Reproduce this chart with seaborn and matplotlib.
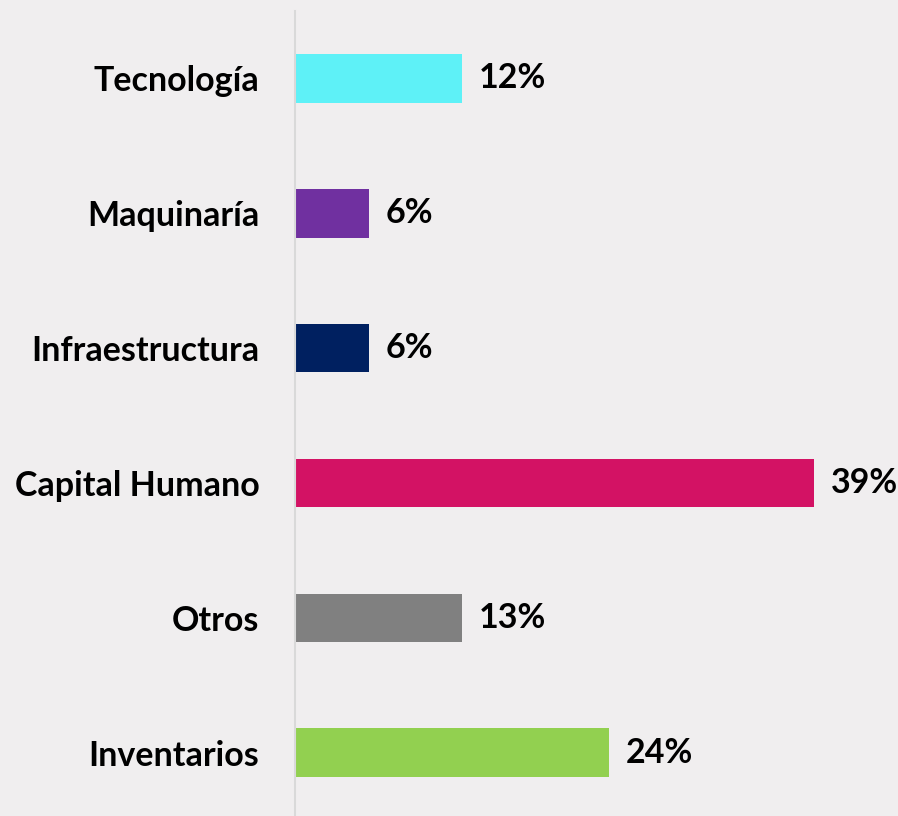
import pandas as pd
import seaborn as sns
import matplotlib.pyplot as plt

categorias = ["Tecnología", "Maquinaría", "Infraestructura", "Capital Humano", "Otros", "Inventarios"]
valores = [12.5, 5.5, 5.5, 39.0, 12.5, 23.6]
etiquetas = ["12%", "6%", "6%", "39%", "13%", "24%"]
colores = ["#5EF1F7", "#7030A0", "#002060", "#D31264", "#808080", "#92D050"]

fondo = "#F0EEEF"

df = pd.DataFrame({"categoria": categorias, "valor": valores})

sns.set_theme(style="white")
plt.rcParams["font.family"] = ["Lato", "DejaVu Sans"]

fig = plt.figure(figsize=(8.98, 8.16), dpi=100, facecolor=fondo)
ax = fig.add_axes([0.329, -0.005, 0.671, 0.9915])
ax.set_facecolor(fondo)

sns.barplot(data=df, x="valor", y="categoria", hue="categoria", palette=colores,
            width=0.36, legend=False, ax=ax, saturation=1, linewidth=0)

for i, (v, lab) in enumerate(zip(valores, etiquetas)):
    ax.text(v + 1.25, i, lab, va="center", ha="left", fontsize=24.5,
            fontweight="bold", color="black")

ax.set_xlim(0, 45.3)
ax.set_ylim(5.5, -0.5)
ax.set_xlabel("")
ax.set_ylabel("")
ax.set_xticks([])
ax.tick_params(axis="y", length=0, pad=26)
for t in ax.get_yticklabels():
    t.set_fontsize(24.5)
    t.set_fontweight("bold")
    t.set_color("black")

for s in ["top", "right", "bottom"]:
    ax.spines[s].set_visible(False)
ax.spines["left"].set_color("#D9D9D9")
ax.spines["left"].set_linewidth(1.5)

fig.savefig("out.png", dpi=100, facecolor=fondo)
